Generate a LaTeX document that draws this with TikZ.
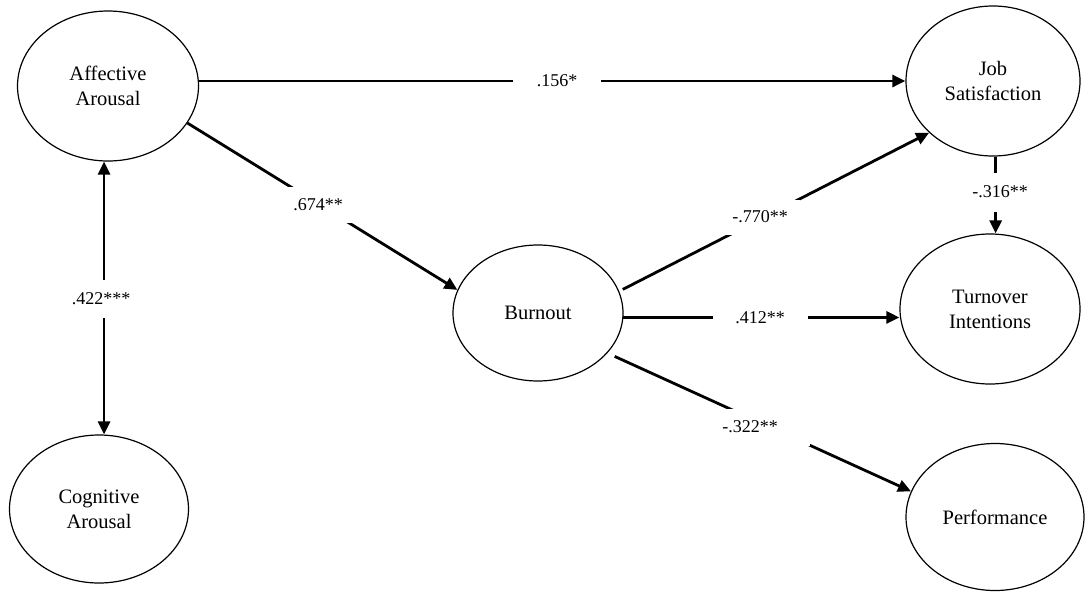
\documentclass[tikz,border=0pt]{standalone}
\usepackage{fontspec}
\setmainfont{Liberation Serif}
\usetikzlibrary{shapes.geometric,arrows.meta,calc}
\begin{document}
\begin{tikzpicture}[x=1pt,y=-1pt,
  var/.style={ellipse,draw,line width=1.2pt,inner sep=0pt,align=center,
    font=\fontsize{20.5}{25}\selectfont},
  arr/.style={line width=2.8pt,-{Triangle[length=13pt,width=12pt]}},
  arrtwo/.style={line width=2.8pt,{Triangle[length=13pt,width=12pt]}-{Triangle[length=13pt,width=12pt]}},
  coef/.style={fill=white,inner sep=0pt,minimum height=20pt,font=\fontsize{18}{20}\selectfont}]
\useasboundingbox (0,0) rectangle (1085,592);
% variables
\node[var,minimum width=181pt,minimum height=150pt] (aff)  at (108,86)  {Affective\\Arousal};
\node[var,minimum width=179pt,minimum height=148pt] (cog)  at (99,509)  {Cognitive\\Arousal};
\node[var,minimum width=170pt,minimum height=136pt] (burn) at (538,313) {Burnout};
\node[var,minimum width=174pt,minimum height=150pt] (job)  at (993,81)  {Job\\Satisfaction};
\node[var,minimum width=180pt,minimum height=150pt] (turn) at (990,309) {Turnover\\Intentions};
\node[var,minimum width=178pt,minimum height=147pt] (perf) at (995,517) {Performance};
% paths
\draw[arr] (aff.east |- job.west) -- (job.west);
\draw[arr] (aff.-25.4) -- (burn.164.6);
\draw[arrtwo] (aff.-93) -- (aff.-93 |- cog.north);
\draw[arr,shorten <=4pt] (burn.15) -- (job.219.2);
\draw[arr] (burn.-3) -- (burn.-3 -| turn.west);
\draw[arr,shorten <=8pt] (burn.-30.7) -- (perf.163.3);
\draw[arr] (job.-88) -- (job.-88 |- turn.north);
% coefficients
\node[coef,minimum width=88pt] (l156) at (557,81) {.156*};
\node[coef,minimum width=100pt,minimum height=36pt] (l674) at (318,205) {.674**};
\node[coef,minimum height=38pt] (l422) at (101,299) {.422***};
\node[coef,minimum width=80pt,minimum height=35pt] (l770) at (760,217) {-.770**};
\node[coef,minimum height=39pt] (l316) at (1000,192) {-.316**};
\node[coef,minimum width=95pt] (l412) at (760,318) {.412**};
\node[coef,minimum width=120pt,minimum height=37pt] (l322) at (750,427) {-.322**};
\end{tikzpicture}
\end{document}
